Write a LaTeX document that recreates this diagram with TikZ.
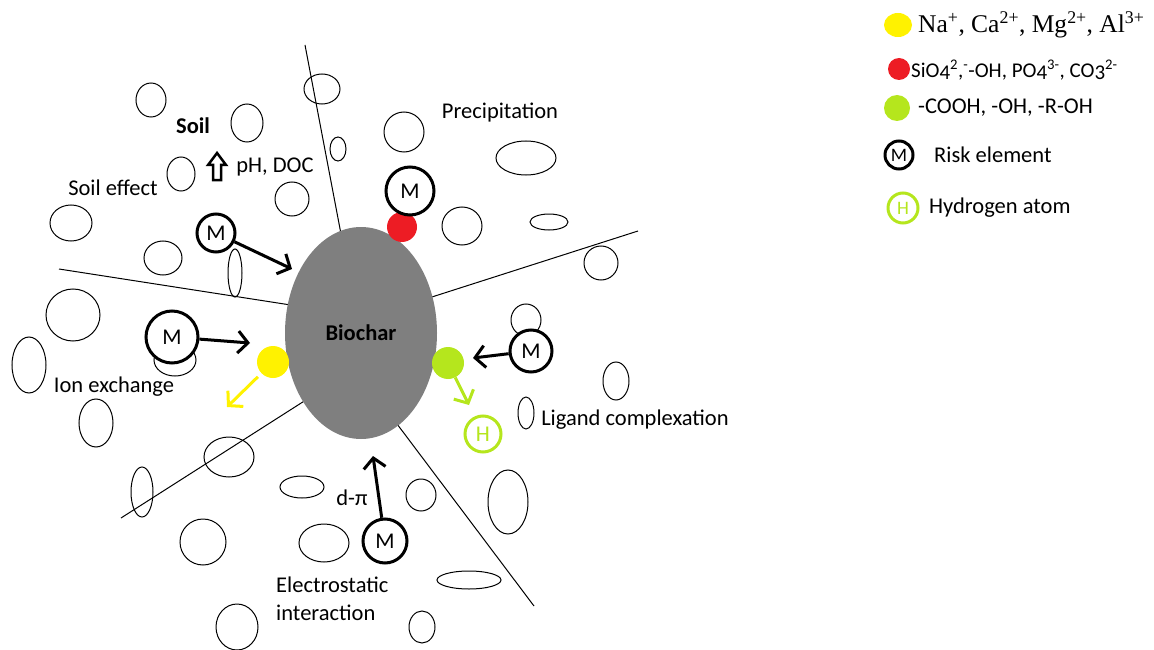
\documentclass[tikz,border=0pt]{standalone}
\usepackage{fontspec}
\setmainfont{Carlito}
\newfontfamily\timesfont{Liberation Serif}
\usetikzlibrary{arrows.meta,shapes.geometric}
\definecolor{ionyellow}{HTML}{FFF200}
\definecolor{anionred}{HTML}{ED1C24}
\definecolor{ligandgreen}{HTML}{B5E61D}
\definecolor{chargrey}{HTML}{7F7F7F}
\def\txt{\fontsize{22.5}{28}\selectfont}

\begin{document}
\begin{tikzpicture}[x=1pt, y=-1pt,
		pore/.style={line width=1pt},
		cut/.style={line width=1pt},
		risk/.style={circle, draw, line width=3pt, fill=white, inner sep=0pt, font=\txt},
		blob/.style={circle, inner sep=0pt},
		push/.style={line width=3pt, -{Straight Barb[length=10pt, width=22pt]}},
		tag/.style={inner sep=0pt, font=\txt},
	]
			%%%%% START %%%%%
			\useasboundingbox (0, 0) rectangle (1154, 650);
			
			\draw[pore] (151, 100) ellipse (15 and 17);
			\draw[pore] (247, 123) ellipse (16 and 19);
			\draw[pore] (181, 174) ellipse (14 and 17);
			\draw[pore] (322, 89) ellipse (18 and 15);
			\draw[pore] (338, 149) ellipse (8 and 12);
			\draw[pore] (292, 199) ellipse (17 and 17);
			\draw[pore] (71, 223) ellipse (21 and 18);
			\draw[pore] (163, 258) ellipse (19 and 17);
			\draw[pore] (235, 273) ellipse (7 and 24);
			\draw[pore] (73, 315) ellipse (27 and 26);
			\draw[pore] (404, 132) ellipse (20 and 20);
			\draw[pore] (526, 158) ellipse (30 and 17);
			\draw[pore] (462, 226) ellipse (20 and 19);
			\draw[pore] (549, 222) ellipse (19 and 8);
			\draw[pore] (601, 263) ellipse (17 and 17);
			\draw[pore] (29, 365) ellipse (17 and 28);
			\draw[pore] (175, 360) ellipse (21 and 16);
			\draw[pore] (96, 423) ellipse (17 and 24);
			\draw[pore] (229, 457) ellipse (25 and 20);
			\draw[pore] (142, 492) ellipse (11 and 25);
			\draw[pore] (302, 487) ellipse (22 and 11);
			\draw[pore] (203, 542) ellipse (23 and 23);
			\draw[pore] (324, 543) ellipse (25 and 19);
			\draw[pore] (237, 627) ellipse (21 and 23);
			\draw[pore] (526, 320) ellipse (15 and 16);
			\draw[pore] (616, 381) ellipse (13 and 19);
			\draw[pore] (526, 413) ellipse (8 and 16);
			\draw[pore] (421, 495) ellipse (15 and 16);
			\draw[pore] (508, 502) ellipse (20 and 32);
			\draw[pore] (469, 580) ellipse (32 and 9);
			\draw[pore] (422, 627) ellipse (13 and 16);
			
			\draw[cut] (305, 45) -- (345, 255);
			\draw[cut] (59, 269) -- (310, 308);
			\draw[cut] (638, 231) -- (410, 304);
			\draw[cut] (121, 518) -- (320, 391);
			\draw[cut] (534, 606) -- (385, 408);
			
			\node[ellipse, fill=chargrey, minimum width=152pt, minimum height=212pt, inner sep=0pt, font=\txt\bfseries] (biochar) at (361, 333) {Biochar};
			
			\node[blob, fill=anionred, minimum size=30pt] (anion) at (402, 227) {};
			\node[blob, fill=ionyellow, minimum size=32pt] (cation) at (273, 362) {};
			\node[blob, fill=ligandgreen, minimum size=32pt] (ligand) at (448, 363) {};
			
			\node[risk, minimum size=38pt] (msoil) at (216, 233) {M};
			\node[risk, minimum size=48pt] (mprec) at (410, 191) {M};
			\node[risk, minimum size=52pt] (mion) at (172, 337) {M};
			\node[risk, minimum size=42pt] (mlig) at (531, 351) {M};
			\node[risk, minimum size=44pt] (melec) at (385, 541) {M};
			\node[risk, draw=ligandgreen, text=ligandgreen, minimum size=36pt] (hatom) at (483, 434) {H};
			
			\coordinate (soilend) at (292, 269);
			\coordinate (ionend) at (250, 343);
			\coordinate (ligend) at (473, 358);
			\coordinate (elecend) at (373, 456);
			\coordinate (cationend) at (227, 407);
			\coordinate (hend) at (469, 405);
			
			\draw[push] (msoil) -- (soilend);
			\draw[push] (mion) -- (ionend);
			\draw[push] (mlig) -- (ligend);
			\draw[push] (melec) -- (elecend);
			\draw[push, ionyellow, shorten <=5pt] (cation) -- (cationend);
			\draw[push, ligandgreen] (ligand) -- (hend);
			
			\draw[line width=2.5pt, fill=white] (217, 153) -- (226, 165) -- (221, 165) -- (221, 180) -- (213, 180) -- (213, 165) -- (208, 165) -- cycle;
			
			\node[tag, font=\txt\bfseries] (soil) at (193, 126) {Soil};
			\node[tag] (phdoc) at (275, 167) {pH, DOC};
			\node[tag] (soileff) at (113, 188) {Soil effect};
			\node[tag] (prec) at (500, 113) {Precipitation};
			\node[tag] (ionex) at (114, 387) {Ion exchange};
			\node[tag] (ligcomp) at (635, 420) {Ligand complexation};
			\node[tag] (dpi) at (352, 498) {d-π};
			\node[tag, anchor=west, align=left] (elec) at (276, 599) {Electrostatic\\interaction};
			
			% legend
			\draw[fill=ionyellow, draw=none] (898, 25) ellipse (14 and 12);
			\node[blob, fill=anionred, minimum size=22pt] (keyanion) at (899, 69) {};
			\node[blob, fill=ligandgreen, minimum size=26pt] (keyligand) at (897, 108) {};
			\node[risk, minimum size=28pt, font=\fontsize{19}{22}\selectfont] (keyrisk) at (899, 155) {M};
			\node[risk, draw=ligandgreen, text=ligandgreen, minimum size=30pt, font=\fontsize{19}{22}\selectfont] (keyh) at (903, 208) {H};
			
			\node[tag, anchor=west, font=\fontsize{25.5}{30}\timesfont] (keycat) at (918, 25) {Na\textsuperscript{+}, Ca\textsuperscript{2+}, Mg\textsuperscript{2+}, Al\textsuperscript{3+}};
			\node[tag, anchor=west, font=\fontsize{21}{26}\selectfont] (keyan) at (911, 70) {SiO\raisebox{-2pt}{4}\textsuperscript{2},\textsuperscript{-}-OH, PO\raisebox{-2pt}{4}\textsuperscript{3-}, CO\raisebox{-2pt}{3}\textsuperscript{2-}};
			\node[tag, anchor=west] (keylig) at (918, 108) {-COOH, -OH, -R-OH};
			\node[tag, anchor=west] (keyrisktxt) at (934, 155) {Risk element};
			\node[tag, anchor=west] (keyhtxt) at (929, 208) {Hydrogen atom};
			
			%%%%% END %%%%%
\end{tikzpicture}
\end{document}
